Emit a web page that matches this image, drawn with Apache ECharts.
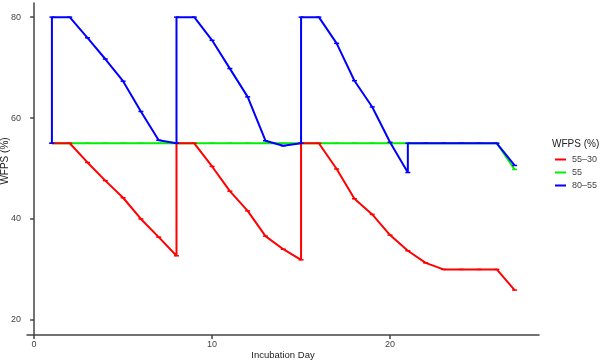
<!DOCTYPE html>
<html>
<head>
<meta charset="utf-8">
<script src="https://cdn.jsdelivr.net/npm/echarts@6/dist/echarts.min.js"></script>
<style>
    html, body { margin: 0; padding: 0; background: #fff; }
    #container { width: 600px; height: 361px; }
</style>
</head>
<body>
<div id="container"></div>
<script>
// series data (day, WFPS) — vertical jumps are repeated days
var redDays = [1, 2, 3, 4, 5, 6, 7, 8, 8, 9, 10, 11, 12, 13, 14, 15, 15, 16, 17, 18, 19, 20, 21, 22, 23, 24, 25, 26, 27];
var redValues = [55, 55, 51.2, 47.6, 44.2, 40.0, 36.4, 32.7, 55, 55, 50.4, 45.5, 41.6, 36.6, 34.0, 31.9, 55, 55, 49.9, 44.0, 40.9, 36.8, 33.7, 31.3, 30, 30, 30, 30, 25.9];

var greenDays = [1, 2, 3, 4, 5, 6, 7, 8, 9, 10, 11, 12, 13, 14, 15, 16, 17, 18, 19, 20, 21, 22, 23, 24, 25, 26, 27];
var greenValues = [55, 55, 55, 55, 55, 55, 55, 55, 55, 55, 55, 55, 55, 55, 55, 55, 55, 55, 55, 55, 55, 55, 55, 55, 55, 55, 49.8];

var blueDays = [1, 1, 2, 3, 4, 5, 6, 7, 8, 8, 9, 10, 11, 12, 13, 14, 15, 15, 16, 17, 18, 19, 20, 21, 21, 22, 23, 24, 25, 26, 27];
var blueValues = [55, 80, 80, 75.9, 71.7, 67.3, 61.3, 55.6, 55.0, 80, 80, 75.4, 69.8, 64.2, 55.5, 54.5, 55.0, 80, 80, 74.8, 67.4, 62.2, 55.2, 49.2, 55, 55, 55, 55, 55, 55, 50.6];

var seriesNames = ['55\u201330', '55', '80\u201355'];
var xTicks = [0, 10, 20];
var yTicks = [20, 40, 60, 80];

function zip(xs, ys) {
    return xs.map(function (x, i) { return [x, ys[i]]; });
}

function makeSeries(name, color, data, z) {
    return {
        name: name,
        type: 'line',
        data: data,
        z: z,
        color: color,
        symbol: 'rect',
        symbolSize: [5, 1.5],
        showAllSymbol: true,
        lineStyle: { width: 2, color: color },
        itemStyle: { color: color },
        animation: false
    };
}

var chart = echarts.init(document.getElementById('container'));
var font = 'Liberation Sans, Arial, sans-serif';
var axisLine = { show: true, lineStyle: { color: '#444', width: 1.5 } };

chart.setOption({
    animation: false,
    textStyle: { fontFamily: font },
    grid: { left: 27, top: 3, right: 61, bottom: 26, containLabel: false, outerBoundsMode: 'none' },
    title: {
        text: 'WFPS (%)',
        left: 552,
        top: 139,
        padding: 0,
        textStyle: { fontSize: 10, fontWeight: 'normal', color: '#222', fontFamily: font }
    },
    legend: {
        orient: 'vertical',
        left: 555,
        top: 155,
        padding: 0,
        icon: 'rect',
        itemWidth: 11,
        itemHeight: 2,
        itemGap: 4,
        data: seriesNames,
        textStyle: { fontSize: 9, color: '#444', fontFamily: font, padding: [0, 0, 0, 1] }
    },
    xAxis: {
        type: 'value',
        min: -0.4,
        max: 28.37,
        name: 'Incubation Day',
        nameLocation: 'middle',
        nameGap: 15,
        nameMoveOverlap: false,
        nameTextStyle: { fontSize: 9.5, color: '#222', fontFamily: font },
        axisLine: axisLine,
        axisTick: { show: true, length: 4, customValues: xTicks, lineStyle: { color: '#444', width: 1.5 } },
        axisLabel: { customValues: xTicks, fontSize: 9, color: '#444', margin: 5 },
        splitLine: { show: false }
    },
    yAxis: {
        type: 'value',
        min: 17.0,
        max: 82.8,
        name: 'WFPS (%)',
        nameLocation: 'middle',
        nameGap: 17,
        nameMoveOverlap: false,
        nameRotate: 90,
        nameTextStyle: { fontSize: 10, color: '#222', fontFamily: font, padding: [0, 0, 0, 16] },
        axisLine: axisLine,
        axisTick: { show: true, length: 4, customValues: yTicks, lineStyle: { color: '#444', width: 1.5 } },
        axisLabel: { customValues: yTicks, fontSize: 9, color: '#444', margin: 6 },
        splitLine: { show: false }
    },
    series: [
        makeSeries(seriesNames[1], '#00ee00', zip(greenDays, greenValues), 2),
        makeSeries(seriesNames[0], '#ff0000', zip(redDays, redValues), 3),
        makeSeries(seriesNames[2], '#0000ff', zip(blueDays, blueValues), 4)
    ]
});
</script>
</body>
</html>
